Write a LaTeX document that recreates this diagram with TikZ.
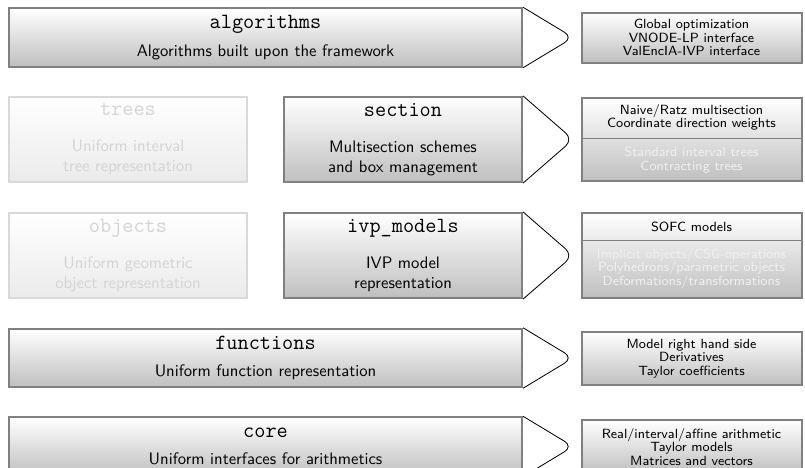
\documentclass[tikz,border=0pt]{standalone}
\usetikzlibrary{positioning}

\newcommand{\modname}[1]{{\fontsize{13}{15}\selectfont\ttfamily #1}}

\tikzset{
  layer/.style={draw=black!50, line width=1.2pt, top color=white, bottom color=black!25,
    font=\sffamily, align=center, inner sep=0pt},
  wide/.style={layer, minimum width=308pt, minimum height=35pt},
  narrow/.style={layer, minimum width=143pt, minimum height=51pt},
  faded/.style={narrow, draw=black!15, top color=white, bottom color=black!8, text=black!17},
  info/.style={layer, minimum width=132pt, font=\sffamily\fontsize{8}{8.1}\selectfont},
  infotext/.style={font=\sffamily\fontsize{8}{8.1}\selectfont, align=center, inner sep=0pt},
  hidden/.style={infotext, text=black!6},
  divider/.style={draw=black!50, line width=0.6pt},
  bracket/.style={draw=black, line width=0.5pt, rounded corners=6pt}
}

\begin{document}
\begin{tikzpicture}[x=0.6pt, y=-0.6pt]
  \useasboundingbox (0,0) rectangle (805,467);

  % layers
  \node[wide] (alg) at (265.5,37.5) {\modname{algorithms}\\[4.5pt]Algorithms built upon the framework};
  \node[faded] (trees) at (128,139.5) {\modname{trees}\\[9.6pt]Uniform interval\\tree representation};
  \node[narrow] (sect) at (403,139.5) {\modname{section}\\[9.6pt]Multisection schemes\\and box management};
  \node[faded] (objects) at (128,255.5) {\modname{objects}\\[9.6pt]Uniform geometric\\object representation};
  \node[narrow] (ivp) at (403,255.5) {\modname{ivp\_models}\\[9.6pt]IVP model\\representation};
  \node[wide] (fun) at (265.5,358) {\modname{functions}\\[4.5pt]Uniform function representation};
  \node[wide] (core) at (265.5,446.5) {\modname{core}\\[4.5pt]Uniform interfaces for arithmetics};

  % contents
  \node[info, minimum height=30pt] (alginfo) at (691.5,37.5)
    {Global optimization\\VNODE-LP interface\\ValEncIA-IVP interface};
  \node[info, minimum height=50pt] (sectinfo) at (691.5,139.5) {};
  \node[infotext] (secttop) at (691.5,117.5) {Naive/Ratz multisection\\Coordinate direction weights};
  \node[hidden] (sectbot) at (691.5,160) {Standard interval trees\\Contracting trees};
  \draw[divider] (sectinfo.west |- 0,138) -- (sectinfo.east |- 0,138);
  \node[info, minimum height=51pt] (ivpinfo) at (691.5,255) {};
  \node[infotext] (ivptop) at (691.5,227) {SOFC models};
  \node[hidden] (ivpbot) at (691.5,268.5)
    {Implicit objects/CSG-operations\\Polyhedrons/parametric objects\\Deformations/transformations};
  \draw[divider] (ivpinfo.west |- 0,240) -- (ivpinfo.east |- 0,240);
  \node[info, minimum height=32pt] (funinfo) at (691.5,358.5)
    {Model right hand side\\Derivatives\\Taylor coefficients};
  \node[info, minimum height=32pt] (coreinfo) at (691.5,447)
    {Real/interval/affine arithmetic\\Taylor models\\Matrices and vectors};

  % brackets
  \coordinate[right=30pt of alg.east] (algtip);
  \coordinate[right=30pt of sect.east] (secttip);
  \coordinate[right=30pt of ivp.east] (ivptip);
  \coordinate[right=30pt of fun.east] (funtip);
  \coordinate[right=30pt of core.east] (coretip);
  \draw[bracket] (alg.north east) -- (algtip) -- (alg.south east);
  \draw[bracket] (sect.north east) -- (secttip) -- (sect.south east);
  \draw[bracket] (ivp.north east) -- (ivptip) -- (ivp.south east);
  \draw[bracket] (fun.north east) -- (funtip) -- (fun.south east);
  \draw[bracket] (core.north east) -- (coretip) -- (core.south east);
\end{tikzpicture}
\end{document}
